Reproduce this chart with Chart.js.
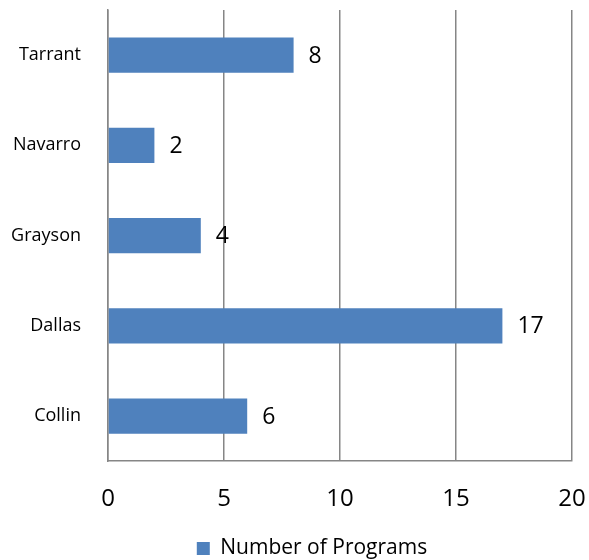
<!DOCTYPE html>
<html lang="en">
<head>
<meta charset="UTF-8">
<title>Number of Programs by County</title>
<script src="https://cdn.jsdelivr.net/npm/chart.js"></script>
<style>
html,body{margin:0;padding:0;background:#fff;}
.wrap{width:589px;height:560px;position:relative;}
</style>
</head>
<body>
<div class="wrap"><canvas id="c"></canvas></div>
<script>
Chart.defaults.animation=false;
Chart.defaults.font.family="'Open Sans','Liberation Sans',Arial,sans-serif";
Chart.defaults.color="#000";

const COUNTIES=["Tarrant","Navarro","Grayson","Dallas","Collin"];
const PROGRAMS=[8,2,4,17,6];
const X_TICKS=[0,5,10,15,20];
const BAR="#4f81bd";

/* value labels at the end of each bar + nudge legend to the right */
const endLabels={
  id:"endLabels",
  afterLayout(ch){
    if(ch.legend){ch.legend.left+=26;ch.legend.right+=26;}
  },
  afterDatasetsDraw(ch){
    const ctx=ch.ctx;
    ctx.save();
    ctx.font="23px 'Open Sans','Liberation Sans',Arial,sans-serif";
    ctx.fillStyle="#000";
    ctx.textAlign="left";ctx.textBaseline="middle";
    ch.getDatasetMeta(0).data.forEach((b,i)=>{
      ctx.fillText(String(PROGRAMS[i]),b.x+15,b.y+1);
    });
    ctx.restore();
  }
};

new Chart(document.getElementById("c"),{
  type:"bar",
  data:{labels:COUNTIES,datasets:[{
    label:"Number of Programs",data:PROGRAMS,backgroundColor:BAR,
    barPercentage:0.39,categoryPercentage:1
  }]},
  options:{
    indexAxis:"y",responsive:true,maintainAspectRatio:false,
    layout:{autoPadding:false,padding:{top:10,right:17,left:0,bottom:-9}},
    scales:{
      x:{min:0,max:20,
         afterBuildTicks:a=>{a.ticks=X_TICKS.map(v=>({value:v}));},
         afterFit:a=>{a.paddingLeft=0;a.paddingRight=0;a.paddingTop=0;},
         grid:{color:"#868686",lineWidth:1.5,drawTicks:false},
         border:{color:"#868686",width:1.5},
         ticks:{padding:24,font:{size:24}}},
      y:{grid:{display:false,drawTicks:false},
         border:{color:"#868686",width:1.5},
         afterFit:a=>{a.width=108;a.paddingTop=0;a.paddingBottom=0;},
         ticks:{padding:27,font:{size:18}}}
    },
    plugins:{
      legend:{position:"bottom",
        labels:{boxWidth:13,boxHeight:13,font:{size:21},padding:0,color:"#000"}},
      tooltip:{enabled:false}
    }
  },
  plugins:[endLabels]
});
</script>
</body>
</html>
